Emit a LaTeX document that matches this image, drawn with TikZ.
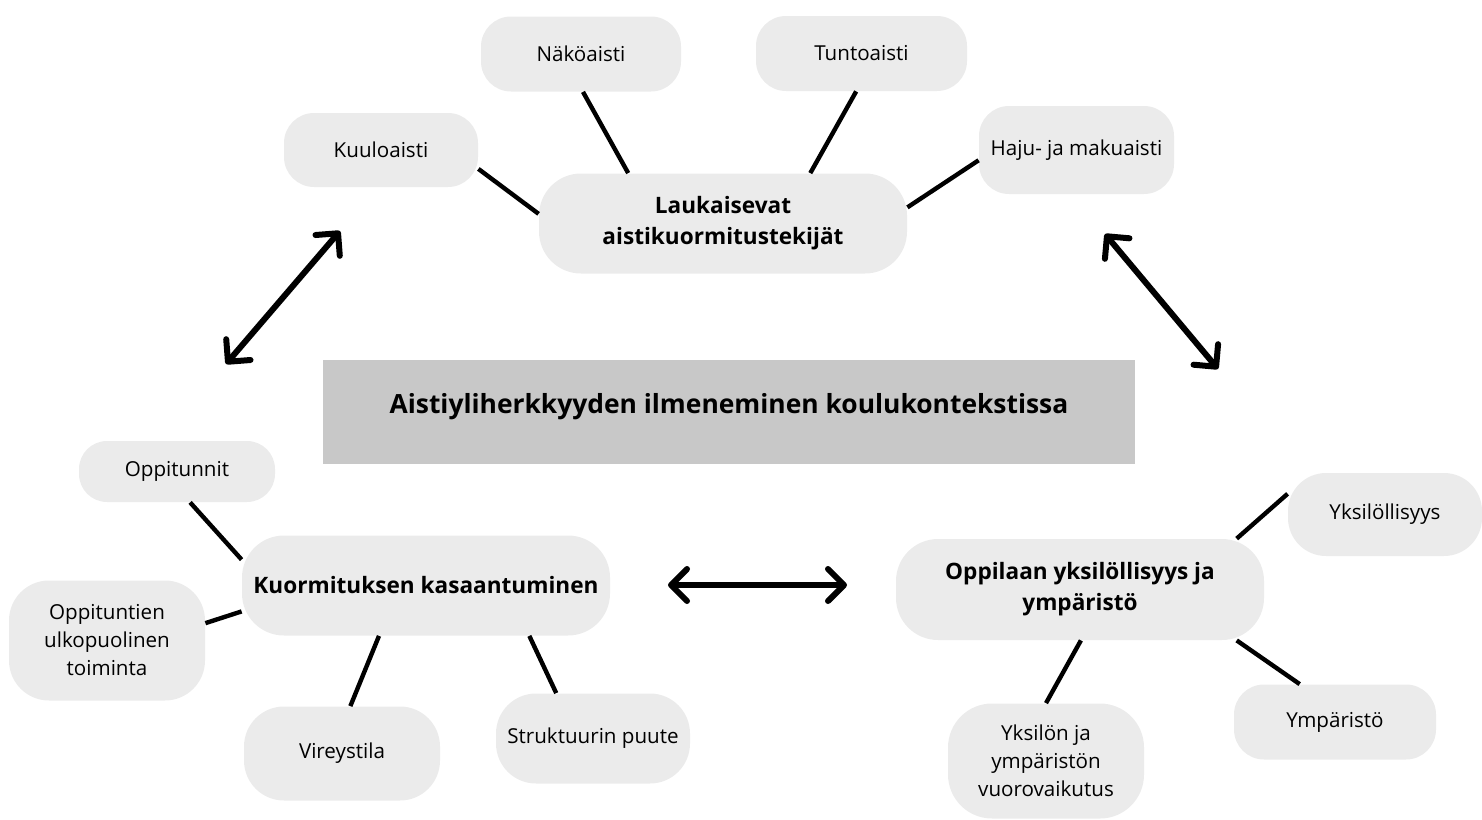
\documentclass[tikz,border=0pt]{standalone}
\usepackage{fontspec}
\setmainfont{Open Sans}
\usetikzlibrary{arrows.meta}
\definecolor{nodegray}{RGB}{235,235,235}
\definecolor{titlegray}{RGB}{200,200,200}
\begin{document}
\begin{tikzpicture}[x=0.5pt,y=0.5pt,
 leaf/.style={fill=nodegray, rounded corners=15pt, inner sep=2pt, align=center, font=\fontsize{10.3}{14}\selectfont},
 hub/.style={fill=nodegray, rounded corners=21pt, inner sep=2pt, align=center, font=\bfseries\fontsize{11.3}{15.5}\selectfont, minimum width=184pt, minimum height=50pt},
 titlebox/.style={fill=titlegray, inner sep=2pt, align=center, font=\bfseries\fontsize{13.2}{16}\selectfont, minimum width=406pt, minimum height=52pt, text depth=9pt},
 link/.style={line width=2.2pt},
 bigarrow/.style={line width=3pt, {Straight Barb[length=8pt,width=16pt,round]}-{Straight Barb[length=8pt,width=16pt,round]}},
]
\useasboundingbox (0,0) rectangle (1482,-819);
% top cluster
\node[leaf, minimum width=100pt, minimum height=37.5pt] (nako) at (581,-54) {Näköaisti};
\node[leaf, minimum width=105.5pt, minimum height=37.5pt] (tunto) at (861.5,-53.5) {Tuntoaisti};
\node[leaf, minimum width=97pt, minimum height=37pt] (kuulo) at (381,-150) {Kuuloaisti};
\node[leaf, minimum width=97.5pt, minimum height=44pt] (haju) at (1076.5,-150) {Haju- ja makuaisti};
\node[hub] (lauk) at (723,-223.5) {Laukaisevat\\aistikuormitustekijät};
% title
\node[titlebox] (title) at (729,-412) {Aistiyliherkkyyden ilmeneminen koulukontekstissa};
% bottom-left cluster
\node[leaf, rounded corners=14pt, minimum width=98pt, minimum height=30.5pt] (oppit) at (177,-471.5) {Oppitunnit};
\node[hub] (kuorm) at (426,-585.5) {Kuormituksen kasaantuminen};
\node[leaf, rounded corners=20pt, minimum width=98pt, minimum height=60pt] (ulko) at (107,-640.5) {Oppituntien\\ulkopuolinen\\toiminta};
\node[leaf, rounded corners=20pt, minimum width=98pt, minimum height=47pt] (vire) at (342,-753.5) {Vireystila};
\node[leaf, rounded corners=20pt, minimum width=97pt, minimum height=45pt] (strukt) at (593,-738.5) {Struktuurin puute};
% bottom-right cluster
\node[hub, minimum height=50.5pt] (oppil) at (1080,-589.5) {Oppilaan yksilöllisyys ja\\ympäristö};
\node[leaf, rounded corners=19pt, minimum width=97pt, minimum height=41.5pt] (yksil) at (1385,-514.5) {Yksilöllisyys};
\node[leaf, minimum width=101pt, minimum height=37.5pt] (ymp) at (1335,-722) {Ympäristö};
\node[leaf, rounded corners=22pt, minimum width=98pt, minimum height=57.5pt] (yksilon) at (1046,-761) {Yksilön ja\\ympäristön\\vuorovaikutus};
% links
\draw[link] (kuulo.-11) -- (lauk.177);
\draw[link] (nako.273) -- (lauk.152);
\draw[link] (tunto.262) -- (lauk.30);
\draw[link] (haju.186.5) -- (lauk.5);
\draw[link] (oppit.293) -- (kuorm.172);
\draw[link] (ulko.10.5) -- (kuorm.188);
\draw[link] (vire.80) -- (kuorm.227);
\draw[link] (strukt.129) -- (kuorm.334.5);
\draw[link] (yksil.168) -- (oppil.18);
\draw[link] (ymp.133) -- (oppil.342.3);
\draw[link] (yksilon.90) -- (oppil.271);
% big arrows
\coordinate (a1) at (226,-364);
\coordinate (a2) at (340,-231);
\coordinate (a3) at (1105,-234);
\coordinate (a4) at (1218,-369);
\coordinate (a5) at (668,-585);
\coordinate (a6) at (847,-585);
\draw[bigarrow] (a1) -- (a2);
\draw[bigarrow] (a3) -- (a4);
\draw[bigarrow] (a5) -- (a6);
\end{tikzpicture}
\end{document}
